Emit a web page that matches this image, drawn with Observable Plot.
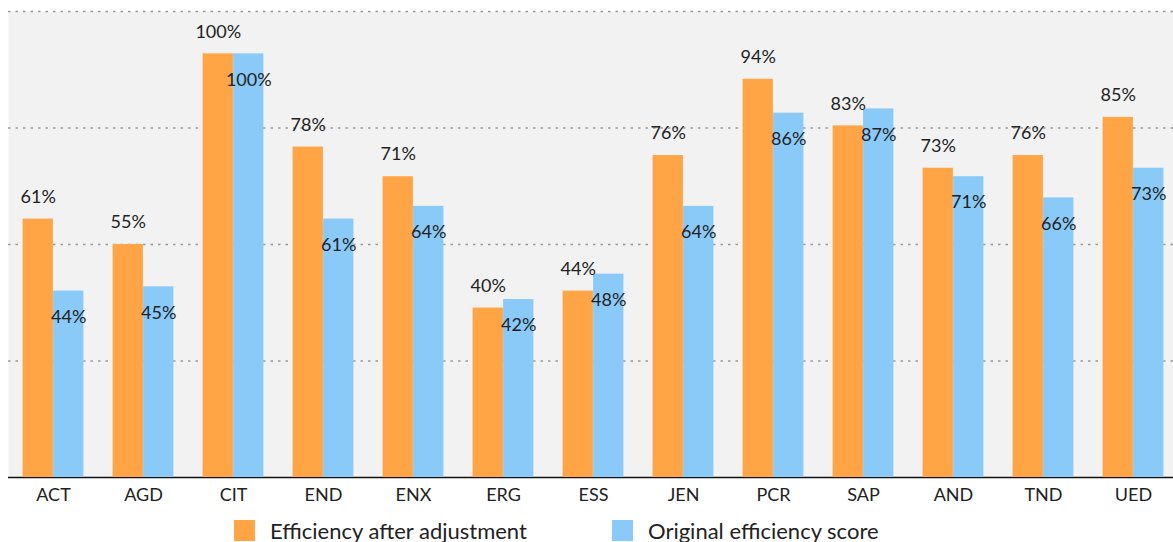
<!DOCTYPE html>
<html>
<head>
<meta charset="utf-8">
<script src="https://cdn.jsdelivr.net/npm/d3@7"></script>
<script src="https://cdn.jsdelivr.net/npm/@observablehq/plot@0.6"></script>
<style>
  html, body { margin: 0; padding: 0; background: #ffffff; }
  #wrap { position: relative; width: 1173px; height: 542px; font-family: Lato, "Open Sans", sans-serif; }
  #legend { position: absolute; left: 0; top: 517px; width: 1173px; height: 26px; }
  .item { position: absolute; top: 0; display: flex; align-items: center; height: 26px; font-size: 22px; color: #222; }
  .swatch { width: 21px; height: 21px; margin-right: 15px; }
</style>
</head>
<body>
<div id="wrap">
  <div id="chart"></div>
  <div id="legend"></div>
</div>
<script>
// Sites, in display order
const categories = ["ACT", "AGD", "CIT", "END", "ENX", "ERG", "ESS", "JEN", "PCR", "SAP", "AND", "TND", "UED"];
// Efficiency after adjustment (%)
const adjusted = [61, 55, 100, 78, 71, 40, 44, 76, 94, 83, 73, 76, 85];
// Original efficiency score (%)
const original = [44, 45, 100, 61, 64, 42, 48, 64, 86, 87, 71, 66, 73];
// Series names and colours
const seriesNames = ["Efficiency after adjustment", "Original efficiency score"];
const seriesColors = ["#FFA545", "#89CAF9"];
// Dotted reference lines
const gridTicks = [27.5, 55, 82.5, 110];

const rowsA = categories.map((c, i) => ({category: c, value: adjusted[i]}));
const rowsO = categories.map((c, i) => ({category: c, value: original[i]}));

const half = 45.1;   // half of one category band
const barW = 30.5;   // width of each bar
const font = "Lato, 'Open Sans', sans-serif";

const chart = Plot.plot({
  width: 1173,
  height: 516,
  marginTop: 11,
  marginBottom: 39,
  marginLeft: 8,
  marginRight: 0,
  style: {fontFamily: font, background: "transparent"},
  x: {domain: categories, range: [6.6, 1179], padding: 0, label: null},
  y: {domain: [0, 110], axis: null},
  marks: [
    Plot.frame({fill: "#F2F2F2", stroke: null}),
    Plot.gridY(gridTicks, {stroke: "#9a9a9a", strokeOpacity: 1, strokeWidth: 1.4, strokeDasharray: "2.5,5"}),
    Plot.ruleY([0], {stroke: "#111", strokeWidth: 1.5}),
    Plot.barY(rowsA, {x: "category", y: "value", fill: seriesColors[0], insetLeft: half - barW, insetRight: half}),
    Plot.barY(rowsO, {x: "category", y: "value", fill: seriesColors[1], insetLeft: half, insetRight: half - barW}),
    Plot.text(rowsA, {x: "category", y: "value", text: d => d.value + "%", dx: -barW / 2, dy: -22, fontSize: 18, fill: "#222"}),
    Plot.text(rowsO, {x: "category", y: "value", text: d => d.value + "%", dx: barW / 2, dy: 26, fontSize: 18, fill: "#222"}),
    Plot.axisX({tickSize: 0, tickPadding: 11, fontSize: 18, color: "#222", label: null})
  ]
});
document.getElementById("chart").appendChild(chart);

// Legend below the chart
const legend = document.getElementById("legend");
const legendLeft = [234, 612];
seriesNames.forEach((name, i) => {
  const item = document.createElement("div");
  item.className = "item";
  item.style.left = legendLeft[i] + "px";
  const sw = document.createElement("div");
  sw.className = "swatch";
  sw.style.background = seriesColors[i];
  const label = document.createElement("span");
  label.textContent = name;
  item.appendChild(sw);
  item.appendChild(label);
  legend.appendChild(item);
});
</script>
</body>
</html>
